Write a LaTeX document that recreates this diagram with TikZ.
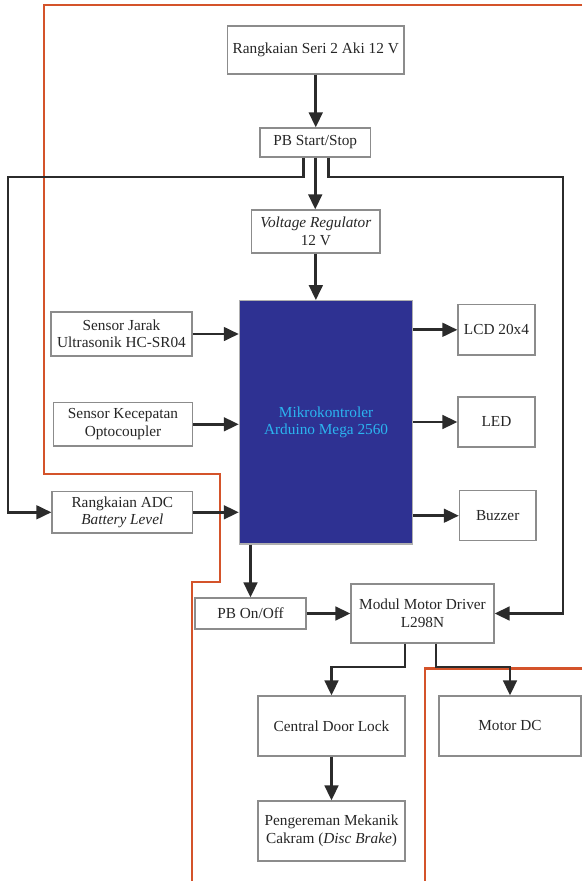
\documentclass[tikz,border=0pt]{standalone}
\usepackage{fontspec}
\setmainfont{Liberation Serif}
\usetikzlibrary{arrows.meta}
\definecolor{boxline}{HTML}{8C8C8C}
\definecolor{arrowc}{HTML}{2B2B2B}
\definecolor{orangec}{HTML}{D4532A}
\definecolor{mcufill}{HTML}{2E3192}
\definecolor{mcutext}{HTML}{2BB5F0}
\tikzset{
  blk/.style={draw=boxline, line width=1.1pt, fill=white, inner sep=0pt, align=center,
    font=\fontsize{15.3}{17.5}\selectfont, text=black!85},
  arr/.style={draw=arrowc, line width=2.9pt, -{Triangle[length=15pt,width=13.5pt]}},
  orng/.style={draw=orangec, line width=2.2pt},
}
\begin{document}
\begin{tikzpicture}[x=1pt,y=-1pt]
\useasboundingbox (0,0) rectangle (582,881);
% orange outlines
\draw[orng] (582,5) -- (44,5) -- (44,474) -- (220,474) -- (220,582) -- (192,582) -- (192,881);
\draw[orng] (582,668.5) -- (425,668.5) -- (425,881);
% boxes
\node[blk, minimum width=176.5pt, minimum height=48pt] (seri) at (315.75,50) {Rangkaian Seri 2 Aki 12 V};
\node[blk, minimum width=110.5pt, minimum height=29pt] (pbss) at (315.25,142.5) {PB Start/Stop};
\node[blk, minimum width=128.3pt, minimum height=43pt] (vr) at (315.85,231.5) {\textit{Voltage Regulator}\\12 V};
\node[blk, draw=boxline!70, fill=mcufill, text=mcutext, minimum width=173.4pt, minimum height=243.3pt] (mcu) at (326.1,422.35) {Mikrokontroler\\Arduino Mega 2560};
\node[blk, minimum width=141pt, minimum height=44pt] (jarak) at (121.5,334) {Sensor Jarak\\Ultrasonik HC-SR04};
\node[blk, minimum width=139.1pt, minimum height=43.3pt] (kec) at (123,424.3) {Sensor Kecepatan\\Optocoupler};
\node[blk, minimum width=140.6pt, minimum height=41.3pt] (adc) at (122.3,512.3) {Rangkaian ADC\\\textit{Battery Level}};
\node[blk, minimum width=77pt, minimum height=50.3pt] (lcd) at (496.5,329.8) {LCD 20x4};
\node[blk, minimum width=77pt, minimum height=50pt] (led) at (496.5,422) {LED};
\node[blk, minimum width=76.5pt, minimum height=50pt] (buzzer) at (497.7,515.7) {Buzzer};
\node[blk, minimum width=111pt, minimum height=31pt] (pbonoff) at (250.5,613.5) {PB On/Off};
\node[blk, minimum width=143pt, minimum height=59pt] (modul) at (422.5,613.5) {Modul Motor Driver\\L298N};
\node[blk, minimum width=147pt, minimum height=60pt] (central) at (331.5,726) {Central Door Lock};
\node[blk, minimum width=142pt, minimum height=60pt] (motor) at (510,726) {Motor DC};
\node[blk, minimum width=147pt, minimum height=60pt] (peng) at (331.5,831) {Pengereman Mekanik\\Cakram (\textit{Disc Brake})};
% junction coordinates
\coordinate (jl) at (8,177);
\coordinate (jr) at (563,177);
\coordinate (jd) at (0,667);
% connectors
\draw[arr] (seri.south) -- (seri.south |- pbss.north);
\draw[arr] (pbss.south) -- (pbss.south |- vr.north);
\draw[arr] ([xshift=-11.7pt]pbss.south) |- (jl) |- (adc.west);
\draw[arr] ([xshift=13.2pt]pbss.south) |- (jr) |- (modul.east);
\draw[arr] (vr.south) -- (vr.south |- mcu.north);
\draw[arr] (jarak.east) -- (jarak.east -| mcu.west);
\draw[arr] (kec.east) -- (kec.east -| mcu.west);
\draw[arr] (adc.east) -- (adc.east -| mcu.west);
\draw[arr] (mcu.east |- lcd.west) -- (lcd.west);
\draw[arr] (mcu.east |- led.west) -- (led.west);
\draw[arr] (mcu.east |- buzzer.west) -- (buzzer.west);
\draw[arr] (mcu.south -| pbonoff.north) -- (pbonoff.north);
\draw[arr] (pbonoff.east) -- (modul.west);
\draw[arr] ([xshift=-17.5pt]modul.south) |- (jd -| central.north) -- (central.north);
\draw[arr] ([xshift=13.5pt]modul.south) |- (jd -| motor.north) -- (motor.north);
\draw[arr] (central.south) -- (peng.north);
\end{tikzpicture}
\end{document}
